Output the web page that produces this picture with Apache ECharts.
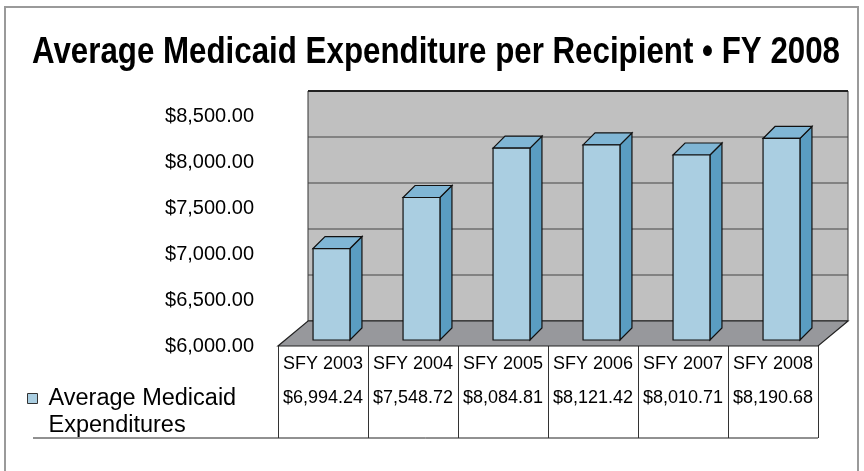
<!DOCTYPE html>
<html>
<head>
<meta charset="utf-8">
<script src="https://cdn.jsdelivr.net/npm/echarts@6/dist/echarts.min.js"></script>
<style>
  html, body { margin: 0; padding: 0; background: #fff; }
  #chart { width: 864px; height: 471px; }
</style>
</head>
<body>
<div id="chart"></div>
<script>
const categories = ['SFY 2003', 'SFY 2004', 'SFY 2005', 'SFY 2006', 'SFY 2007', 'SFY 2008']
const values = [6994.24, 7548.72, 8084.81, 8121.42, 8010.71, 8190.68]
const yTicks = [6000, 6500, 7000, 7500, 8000, 8500]
const seriesName = 'Average Medicaid Expenditures'
const titleText = 'Average Medicaid Expenditure per Recipient • FY 2008'

// 3d look: how far the back wall sits from the front plane
const DEPTH_X = 30
const DEPTH_Y = -25

const FONT = '"Liberation Sans", Arial, sans-serif'
const TITLE_FONT = 'bold 37px ' + FONT

const money = v => '$' + v.toLocaleString('en-US', { minimumFractionDigits: 2, maximumFractionDigits: 2 })

// no narrow font installed, so squeeze the bold title to the width it has in the original
const measure = document.createElement('canvas').getContext('2d')
measure.font = TITLE_FONT
const titleScale = 808 / measure.measureText(titleText).width

const chart = echarts.init(document.getElementById('chart'))

const renderFrame = (params, api) => {
  const cs = params.coordSys
  const bottom = cs.y + cs.height
  const children = []
  // back wall
  children.push({
    type: 'rect',
    shape: { x: cs.x + DEPTH_X, y: cs.y + DEPTH_Y, width: cs.width, height: cs.height },
    style: { fill: '#c0c0c0', stroke: '#333', lineWidth: 1 }
  })
  // gridlines on the wall
  yTicks.forEach(t => {
    const y = api.coord([0, t])[1] + DEPTH_Y
    const isTop = t === yTicks[yTicks.length - 1]
    children.push({
      type: 'line',
      shape: { x1: cs.x + DEPTH_X, y1: y, x2: cs.x + cs.width + DEPTH_X, y2: y },
      style: { stroke: isTop ? '#222' : '#444', lineWidth: isTop ? 2 : 1 }
    })
  })
  // floor
  children.push({
    type: 'polygon',
    shape: {
      points: [
        [cs.x, bottom],
        [cs.x + cs.width, bottom],
        [cs.x + cs.width + DEPTH_X, bottom + DEPTH_Y],
        [cs.x + DEPTH_X, bottom + DEPTH_Y]
      ]
    },
    style: { fill: '#97989c', stroke: '#222', lineWidth: 1.2 }
  })
  return { type: 'group', children }
}

const renderBar = (params, api) => {
  const idx = api.value(0)
  const top = api.coord([idx, api.value(1)])
  const base = api.coord([idx, yTicks[0]])
  const w = api.size([1, 0])[0] * 0.41
  const fx = top[0] + 8.5 - w / 2
  const ty = top[1] - 6
  const by = base[1] - 6
  const dx = 12
  const dy = -12
  const edge = { stroke: '#111', lineWidth: 1.2 }
  return {
    type: 'group',
    children: [
      {
        type: 'polygon',
        shape: { points: [[fx + w, ty], [fx + w + dx, ty + dy], [fx + w + dx, by + dy], [fx + w, by]] },
        style: Object.assign({ fill: '#5a9dc2' }, edge)
      },
      {
        type: 'polygon',
        shape: { points: [[fx, ty], [fx + dx, ty + dy], [fx + w + dx, ty + dy], [fx + w, ty]] },
        style: Object.assign({ fill: '#80b6d5' }, edge)
      },
      {
        type: 'rect',
        shape: { x: fx, y: ty, width: w, height: by - ty },
        style: Object.assign({ fill: '#aacee1' }, edge)
      }
    ]
  }
}

const option = {
  backgroundColor: '#fff',
  animation: false,
  legend: {
    data: [seriesName],
    left: 27,
    top: 358,
    padding: 0,
    icon: 'rect',
    itemWidth: 10,
    itemHeight: 10,
    itemStyle: { color: '#aacee1', borderColor: '#333', borderWidth: 1 },
    // blank first line keeps the key square level with the first text line
    formatter: () => ' \nAverage Medicaid\nExpenditures',
    textStyle: {
      fontFamily: FONT,
      fontSize: 23.5,
      lineHeight: 27,
      color: '#000',
      padding: [0, 0, 0, 6]
    }
  },
  grid: {
    left: 278,
    right: 46,
    top: 116,
    bottom: 125
  },
  xAxis: {
    type: 'category',
    data: categories,
    axisLine: { show: false },
    axisTick: {
      show: true,
      length: 92,
      inside: false,
      lineStyle: { color: '#333', width: 1 }
    },
    axisLabel: {
      interval: 0,
      margin: 1,
      color: '#000',
      fontFamily: FONT,
      fontSize: 18,
      lineHeight: 34,
      formatter: (val, idx) => val + '\n' + money(values[idx])
    }
  },
  yAxis: {
    type: 'value',
    min: yTicks[0],
    max: yTicks[yTicks.length - 1],
    interval: 500,
    axisLine: { show: false },
    axisTick: { show: false },
    splitLine: { show: false },
    axisLabel: {
      margin: 24,
      color: '#000',
      fontFamily: FONT,
      fontSize: 20,
      formatter: v => money(v)
    }
  },
  series: [
    {
      name: 'frame',
      type: 'custom',
      silent: true,
      z: 1,
      data: [[0, yTicks[0]]],
      renderItem: renderFrame
    },
    {
      name: seriesName,
      type: 'custom',
      z: 3,
      itemStyle: { color: '#aacee1' },
      data: categories.map((c, i) => [i, values[i]]),
      encode: { x: 0, y: 1 },
      renderItem: renderBar
    }
  ],
  graphic: [
    {
      type: 'rect',
      shape: { x: 5, y: 7, width: 853, height: 480 },
      style: { fill: null, stroke: '#9a9a9a', lineWidth: 2 },
      z: 0
    },
    {
      type: 'text',
      x: 436,
      y: 53,
      scaleX: titleScale,
      style: {
        text: titleText,
        font: TITLE_FONT,
        fill: '#000',
        align: 'center',
        verticalAlign: 'middle'
      }
    },
    {
      type: 'line',
      shape: { x1: 33, y1: 438, x2: 818, y2: 438 },
      style: { stroke: '#222', lineWidth: 1 }
    }
  ]
}

chart.setOption(option)

window.addEventListener('resize', () => chart.resize())
</script>
</body>
</html>
